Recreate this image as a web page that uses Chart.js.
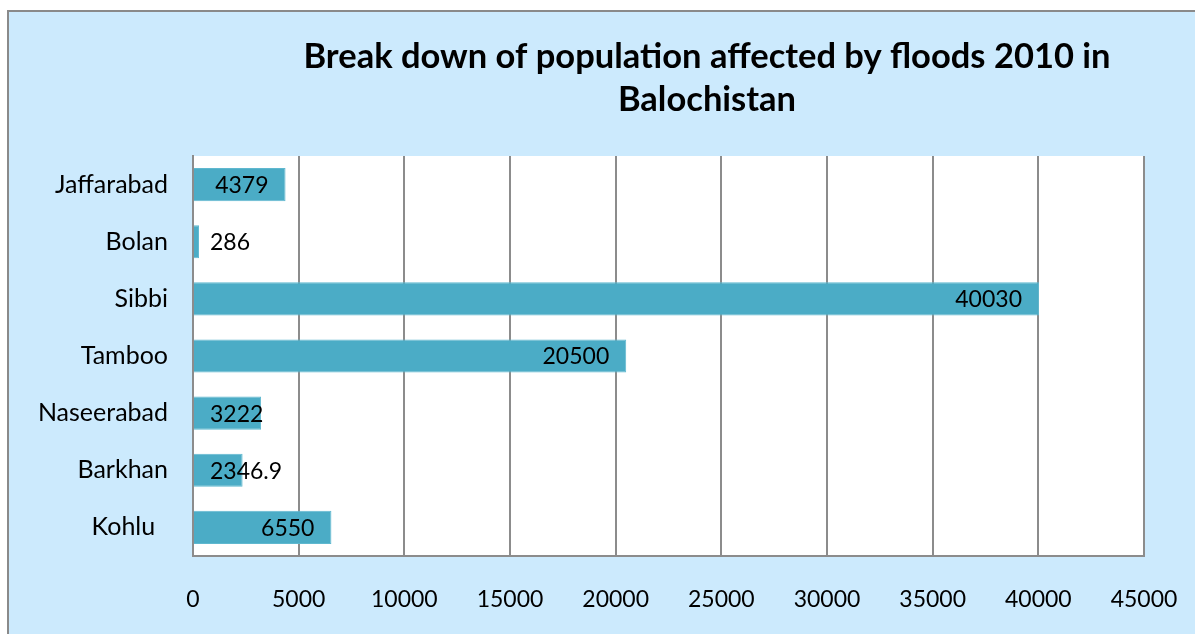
<!DOCTYPE html>
<html lang="en">

<head>
    <meta charset="UTF-8">
    <title>Population affected by floods 2010 in Balochistan</title>
    <script src="https://cdn.jsdelivr.net/npm/chart.js"></script>
    <style>
        html,
        body {
            margin: 0;
            padding: 0;
            background-color: #ffffff;
            overflow: hidden;
        }

        .chart-box {
            width: 1195px;
            height: 634px;
        }
    </style>
</head>

<body>
    <div class="chart-box">
        <canvas id="floodChart"></canvas>
    </div>

    <script>
        const districts = ['Jaffarabad', 'Bolan', 'Sibbi', 'Tamboo', 'Naseerabad', 'Barkhan', 'Kohlu  '];
        const affected = [4379, 286, 40030, 20500, 3222, 2346.9, 6550];
        const titleLines = ['Break down of population affected by floods 2010 in', 'Balochistan'];
        const xTicks = [0, 5000, 10000, 15000, 20000, 25000, 30000, 35000, 40000, 45000];

        const fontFamily = 'Lato, "Open Sans", sans-serif';

        // light blue frame, white plot area and the two-line heading
        const backdrop = {
            id: 'backdrop',
            beforeDraw(chart) {
                const ctx = chart.ctx;
                const area = chart.chartArea;
                ctx.save();
                ctx.fillStyle = '#ffffff';
                ctx.fillRect(0, 0, chart.width, chart.height);
                ctx.fillStyle = '#cceafd';
                ctx.fillRect(9, 12, chart.width, chart.height);
                ctx.strokeStyle = '#8a8a8a';
                ctx.lineWidth = 2;
                ctx.strokeRect(8, 11, chart.width + 10, chart.height + 10);
                ctx.fillStyle = '#ffffff';
                ctx.fillRect(area.left, area.top, area.right - area.left, area.bottom - area.top);

                ctx.fillStyle = '#000000';
                ctx.font = 'bold 34.5px ' + fontFamily;
                ctx.textAlign = 'center';
                ctx.textBaseline = 'middle';
                ctx.fillText(titleLines[0], 707, 57);
                ctx.fillText(titleLines[1], 707, 100);
                ctx.restore();
            }
        };

        // value labels at the inside end of each bar, like the spreadsheet does
        const barValues = {
            id: 'barValues',
            afterDatasetsDraw(chart) {
                const ctx = chart.ctx;
                const meta = chart.getDatasetMeta(0);
                ctx.save();
                ctx.font = '23px ' + fontFamily;
                ctx.fillStyle = '#000000';
                ctx.textAlign = 'left';
                ctx.textBaseline = 'middle';
                meta.data.forEach(function (bar, i) {
                    const text = String(affected[i]);
                    const w = ctx.measureText(text).width;
                    const left = Math.max(bar.base + 16, bar.x - 17 - w);
                    ctx.fillText(text, left, bar.y + 1);
                });
                ctx.restore();
            }
        };

        const ctx = document.getElementById('floodChart').getContext('2d');
        new Chart(ctx, {
            type: 'bar',
            data: {
                labels: districts,
                datasets: [{
                    data: affected,
                    backgroundColor: '#4bacc6',
                    borderColor: '#5fb8cf',
                    borderWidth: 1,
                    barPercentage: 0.58,
                    categoryPercentage: 1
                }]
            },
            options: {
                indexAxis: 'y',
                responsive: true,
                maintainAspectRatio: false,
                animation: false,
                layout: {
                    padding: { top: 156, right: 51, bottom: 0, left: 0 }
                },
                plugins: {
                    legend: { display: false },
                    title: { display: false },
                    tooltip: { enabled: false }
                },
                scales: {
                    x: {
                        min: 0,
                        max: 45000,
                        afterFit(scale) {
                            scale.height = 78;
                            scale.paddingLeft = 0;
                            scale.paddingRight = 0;
                        },
                        afterBuildTicks(scale) {
                            scale.ticks = xTicks.map(function (v) { return { value: v }; });
                        },
                        grid: {
                            color: '#8c8c8c',
                            lineWidth: 2,
                            drawTicks: false
                        },
                        border: { display: true, color: '#8c8c8c', width: 2 },
                        ticks: {
                            padding: 30,
                            color: '#000000',
                            font: { family: fontFamily, size: 23 },
                            callback: function (value) { return String(value); }
                        }
                    },
                    y: {
                        afterFit(scale) {
                            scale.width = 193;
                            scale.paddingTop = 0;
                            scale.paddingBottom = 0;
                        },
                        grid: { display: false, drawTicks: false },
                        border: { display: true, color: '#8c8c8c', width: 2 },
                        ticks: {
                            padding: 25,
                            color: '#000000',
                            font: { family: fontFamily, size: 25 }
                        }
                    }
                }
            },
            plugins: [backdrop, barValues]
        });
    </script>
</body>

</html>
